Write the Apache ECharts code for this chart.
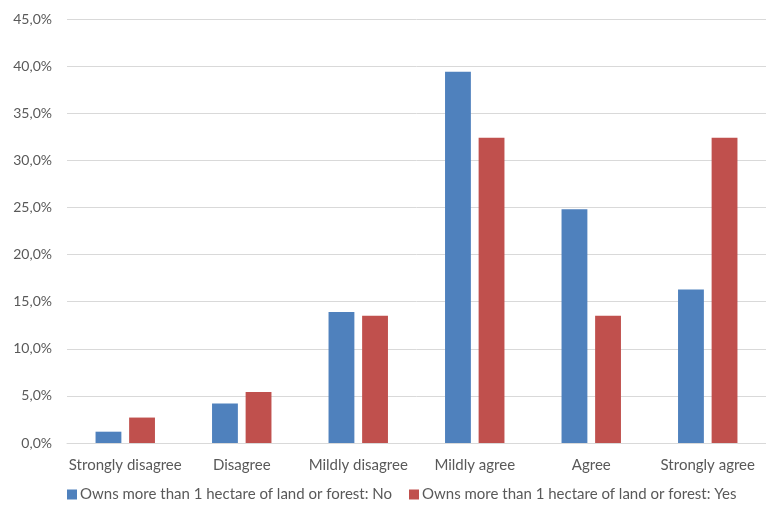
<!DOCTYPE html>
<html>
<head>
<meta charset="utf-8">
<script src="https://cdn.jsdelivr.net/npm/echarts@6/dist/echarts.min.js"></script>
<style>
  html, body { margin: 0; padding: 0; background: #fff; }
  #chart { width: 766px; height: 509px; }
</style>
</head>
<body>
<div id="chart"></div>
<script>
// Survey answers, share of respondents per answer (%)
const categories = ['Strongly disagree', 'Disagree', 'Mildly disagree', 'Mildly agree', 'Agree', 'Strongly agree'];
const seriesNames = [
  'Owns more than 1 hectare of land or forest: No',
  'Owns more than 1 hectare of land or forest: Yes'
];
const valuesNo = [1.2, 4.2, 13.9, 39.4, 24.8, 16.3];
const valuesYes = [2.7, 5.4, 13.5, 32.4, 13.5, 32.4];
const yMin = 0, yMax = 45, yStep = 5;

const textColor = '#595959';
const font = 'Lato, "Open Sans", sans-serif';

const chart = echarts.init(document.getElementById('chart'), null, { renderer: 'canvas' });
chart.setOption({
  animation: false,
  backgroundColor: '#ffffff',
  grid: { left: 67, right: -3, top: 19, bottom: 66, containLabel: false },
  legend: {
    bottom: 2,
    left: 62,
    itemWidth: 10,
    itemHeight: 10,
    itemGap: 17,
    icon: 'rect',
    textStyle: { color: textColor, fontFamily: font, fontSize: 15, padding: [0, 0, 0, -2] },
    data: seriesNames
  },
  xAxis: {
    type: 'category',
    data: categories,
    axisLine: { lineStyle: { color: '#d9d9d9' } },
    axisTick: { show: false },
    axisLabel: { color: textColor, fontFamily: font, fontSize: 15, margin: 15, interval: 0 }
  },
  yAxis: {
    type: 'value',
    min: yMin,
    max: yMax,
    interval: yStep,
    axisLine: { show: false },
    axisTick: { show: false },
    splitLine: { lineStyle: { color: '#d9d9d9' } },
    axisLabel: {
      color: textColor, fontFamily: font, fontSize: 14, margin: 15,
      formatter: v => v.toFixed(1).replace('.', ',') + '%'
    }
  },
  series: [
    {
      name: seriesNames[0], type: 'bar', data: valuesNo,
      barGap: '30%', barCategoryGap: '49%',
      itemStyle: { color: '#4F81BD' }
    },
    {
      name: seriesNames[1], type: 'bar', data: valuesYes,
      itemStyle: { color: '#C0504D' }
    }
  ]
});
</script>
</body>
</html>
